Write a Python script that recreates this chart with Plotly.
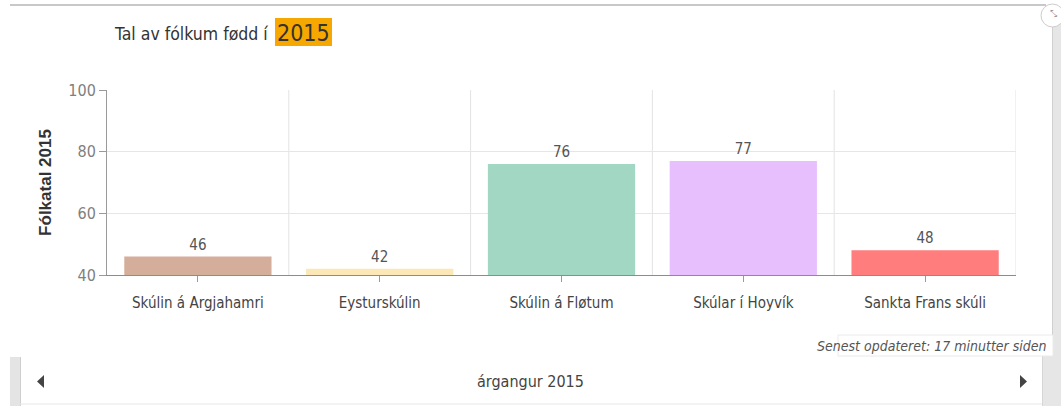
import plotly.graph_objects as go

# ---- data ----
schools = ["Skúlin á Argjahamri", "Eysturskúlin", "Skúlin á Fløtum", "Skúlar í Hoyvík", "Sankta Frans skúli"]
counts = [46, 42, 76, 77, 48]
bar_colors = ["#D5AE9B", "#FCE8B6", "#A2D8C3", "#E7BFFD", "#FF7D7D"]
y_ticks = [40, 60, 80, 100]
year = "2015"

W, H = 1061, 406
L, R, T, B = 107, 1016, 90, 275

def px(x):
    return (x - L) / (R - L)

def py(y):
    return (B - y) / (B - T)

FONT = "DejaVu Sans Condensed, Liberation Sans Narrow, sans-serif"

fig = go.Figure()
fig.add_trace(go.Bar(
    x=schools, y=counts,
    marker=dict(color=bar_colors, line=dict(width=0)),
    text=[str(v) for v in counts], textposition="outside",
    textfont=dict(family=FONT, size=15, color="#555555"),
    cliponaxis=False, hoverinfo="x+y",
))

shapes = []
# boundary gridlines between categories and right plot border
for i in range(len(schools)):
    shapes.append(dict(type="line", xref="x", yref="paper", x0=i + 0.5, x1=i + 0.5, y0=0, y1=1,
                       line=dict(color="#E3E3E3", width=1), layer="below"))

def rect(x0, y0, x1, y1, fill, line=None):
    return dict(type="rect", xref="paper", yref="paper", x0=px(x0), x1=px(x1), y0=py(y1), y1=py(y0),
                fillcolor=fill, line=line or dict(width=0), layer="below")

def hline(x0, x1, y, color, width=1):
    return dict(type="line", xref="paper", yref="paper", x0=px(x0), x1=px(x1), y0=py(y), y1=py(y),
                line=dict(color=color, width=width))

def vline(x, y0, y1, color, width=1):
    return dict(type="line", xref="paper", yref="paper", x0=px(x), x1=px(x), y0=py(y0), y1=py(y1),
                line=dict(color=color, width=width))

shapes += [
    hline(10, 1046, 5, "#C8C8C8", 2),
    rect(1053, 12, 1061, 406, "#E6E6E6"),
    vline(1052.5, 12, 356, "#D0D0D0", 1),
    rect(1042, 356, 1061, 406, "#E6E6E6"),
    rect(10, 357, 20, 406, "#E4E4E4"),
    vline(20.5, 357, 406, "#CFCFCF", 1),
    hline(20, 1042, 404, "#E6E6E6", 1),
    vline(1042.5, 356, 406, "#D6D6D6", 1),
    dict(type="rect", xref="paper", yref="paper", x0=px(838), x1=px(1053), y0=py(356), y1=py(335),
         fillcolor="white", line=dict(color="#EAEAEA", width=1), layer="above"),
    rect(275, 18, 332, 46, "#F7A800"),
    dict(type="circle", xref="paper", yref="paper", x0=px(1041), x1=px(1064), y0=py(27), y1=py(4),
         fillcolor="white", line=dict(color="#CCCCCC", width=1)),
    dict(type="path", xref="paper", yref="paper",
         path=f"M {px(44)} {py(375)} L {px(44)} {py(388)} L {px(37)} {py(381.5)} Z",
         fillcolor="#444444", line=dict(width=0)),
    dict(type="path", xref="paper", yref="paper",
         path=f"M {px(1020)} {py(375)} L {px(1020)} {py(388)} L {px(1027)} {py(381.5)} Z",
         fillcolor="#444444", line=dict(width=0)),
]

annotations = [
    dict(text="Tal av fólkum fødd í", xref="paper", yref="paper", x=px(112), y=py(34),
         xanchor="left", yanchor="middle", showarrow=False,
         font=dict(family=FONT, size=17.5, color="#333333")),
    dict(text=year, xref="paper", yref="paper", x=px(303.5), y=py(33),
         xanchor="center", yanchor="middle", showarrow=False,
         font=dict(family=FONT, size=23, color="#333333")),
    dict(text="<i>Senest opdateret: 17 minutter siden</i>", xref="paper", yref="paper",
         x=px(1049), y=py(346), xanchor="right", yanchor="middle", showarrow=False,
         font=dict(family=FONT, size=14, color="#555555")),
    dict(text="árgangur " + year, xref="paper", yref="paper", x=px(530), y=py(381),
         xanchor="center", yanchor="middle", showarrow=False,
         font=dict(family=FONT, size=16, color="#444444")),
    dict(text="⤡", xref="paper", yref="paper", x=px(1053), y=py(14),
         xanchor="center", yanchor="middle", showarrow=False,
         font=dict(family="DejaVu Sans", size=9, color="#999999")),
]

fig.update_layout(
    width=W, height=H,
    margin=dict(l=L, r=W - R, t=T, b=H - B, pad=0),
    paper_bgcolor="white", plot_bgcolor="white",
    showlegend=False, bargap=0.19,
    shapes=shapes, annotations=annotations,
    xaxis=dict(
        type="category", categoryorder="array", categoryarray=schools,
        range=[-0.5, len(schools) - 0.5],
        showgrid=False, showline=True, linecolor="#8C8C8C", linewidth=1,
        ticks="outside", ticklen=6, tickcolor="#9A9A9A",
        tickfont=dict(family=FONT, size=15, color="#444444"), ticklabelstandoff=8,
    ),
    yaxis=dict(
        range=[y_ticks[0], y_ticks[-1]], tickvals=y_ticks,
        showgrid=True, gridcolor="#E6E6E6", gridwidth=1,
        showline=True, linecolor="#9A9A9A", linewidth=1, zeroline=False,
        ticks="outside", ticklen=7, tickcolor="#9A9A9A",
        tickfont=dict(family=FONT, size=16, color="#808080"),
        title=dict(text="<b>Fólkatal " + year + "</b>", standoff=12,
                   font=dict(family="Liberation Sans, Arial, sans-serif", size=17, color="#333333")),
    ),
)

fig.write_html("out.html")
